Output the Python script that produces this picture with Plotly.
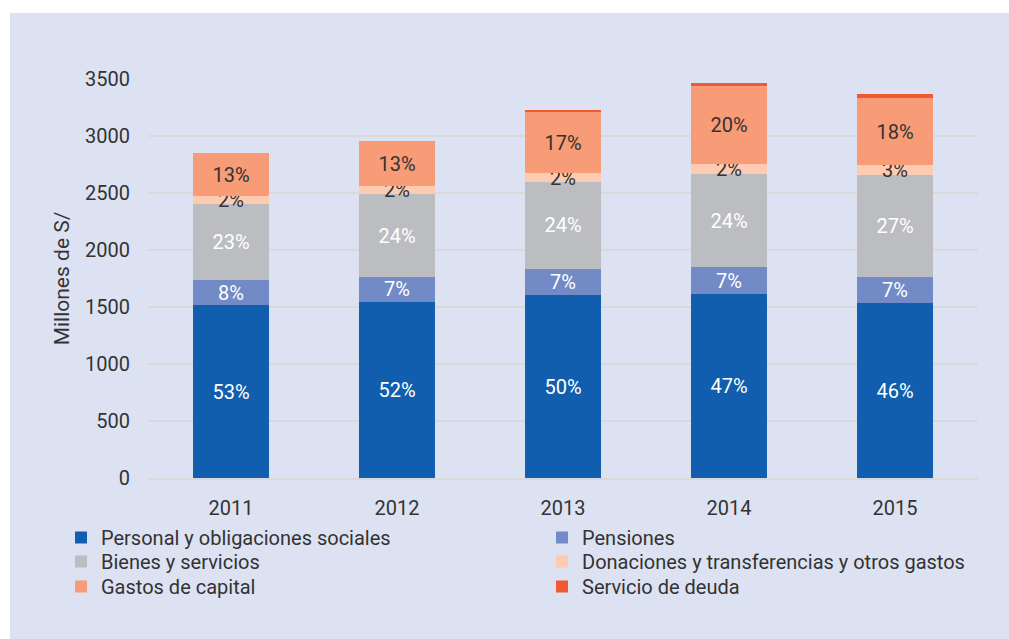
import plotly.graph_objects as go

# Gasto por categoría, millones de S/
years = ["2011", "2012", "2013", "2014", "2015"]
personal = [1515, 1544, 1603, 1615, 1533]
pensiones = [222, 221, 232, 232, 230]
bienes = [666, 722, 763, 820, 894]
donaciones = [68, 72, 74, 85, 86]
gastos_capital = [381, 397, 535, 684, 591]
servicio_deuda = [0, 0, 19, 26, 32]

y_ticks = [0, 500, 1000, 1500, 2000, 2500, 3000, 3500]

series = [
    ("Personal y obligaciones sociales", personal, "#105EAD", "white", True),
    ("Pensiones", pensiones, "#728AC6", "white", True),
    ("Bienes y servicios", bienes, "#BCBDC1", "white", True),
    ("Donaciones y transferencias y otros gastos", donaciones, "#FDCAB2", "#333333", True),
    ("Gastos de capital", gastos_capital, "#F89C77", "#333333", True),
    ("Servicio de deuda", servicio_deuda, "#EF5A30", "#333333", False),
]

totals = [sum(s[1][i] for s in series) for i in range(len(years))]


def pct_labels(values):
    out = []
    for v, t in zip(values, totals):
        out.append(f"{int(100 * v / t + 0.5)}%")
    return out


FONT = "Roboto"
W, H = 1009, 639
ML, MR, MT, MB = 148, 31, 79, 161
PW, PH = W - ML - MR, H - MT - MB


def px_x(px):
    return (px - ML) / PW


def px_y(py):
    return (H - MB - py) / PH


# Leyenda en dos columnas y tres filas: una caja por entrada
LEG_COLS = [86, 567]          # inicio de cada columna (px)
LEG_ROWS = [537, 561, 586]    # centro de cada fila (px)

fig = go.Figure()
legend_layout = {}
for i, (name, vals, color, tcolor, labeled) in enumerate(series):
    key = "legend" if i == 0 else f"legend{i + 1}"
    col, row = i % 2, i // 2
    legend_layout[key] = dict(
        x=px_x(LEG_COLS[col] - 25), xanchor="left",
        y=px_y(LEG_ROWS[row] - 19), yanchor="top",
        font=dict(family=FONT, size=20, color="#333333"),
        bgcolor="rgba(0,0,0,0)",
        itemclick=False, itemdoubleclick=False,
    )
    fig.add_trace(go.Bar(
        name=name,
        x=years,
        y=vals,
        legend=key,
        marker=dict(color=color, line=dict(width=0)),
        text=pct_labels(vals) if labeled else None,
        textposition="inside" if labeled else "none",
        insidetextanchor="middle",
        textangle=0,
        constraintext="none",
        textfont=dict(family=FONT, size=20, color=tcolor),
        hoverinfo="x+y+name",
    ))

# Fondo lavanda del panel
fig.add_shape(type="rect", xref="paper", yref="paper",
              x0=px_x(10), x1=px_x(W + 5), y0=px_y(H + 5), y1=px_y(13),
              fillcolor="#DCE2F2", line=dict(width=0), layer="below")

fig.update_layout(
    width=W, height=H,
    margin=dict(l=ML, r=MR, t=MT, b=MB),
    barmode="stack",
    bargap=0.54,
    paper_bgcolor="white",
    plot_bgcolor="rgba(0,0,0,0)",
    font=dict(family=FONT, size=20, color="#333333"),
    showlegend=True,
    yaxis=dict(
        range=[0, 3500],
        tickvals=y_ticks,
        showgrid=True, gridcolor="#D9D9D9", gridwidth=1.5,
        zeroline=False,
        showline=False,
        ticklabelstandoff=17,
        tickfont=dict(family=FONT, size=20, color="#333333"),
        title=dict(text="Millones de S/", standoff=9,
                   font=dict(family=FONT, size=21, color="#333333")),
    ),
    xaxis=dict(
        showgrid=False,
        showline=True, linecolor="#D9D9D9", linewidth=1.5,
        ticklabelstandoff=11,
        tickfont=dict(family=FONT, size=20, color="#333333"),
    ),
    **legend_layout,
)

fig.write_html("out.html")
